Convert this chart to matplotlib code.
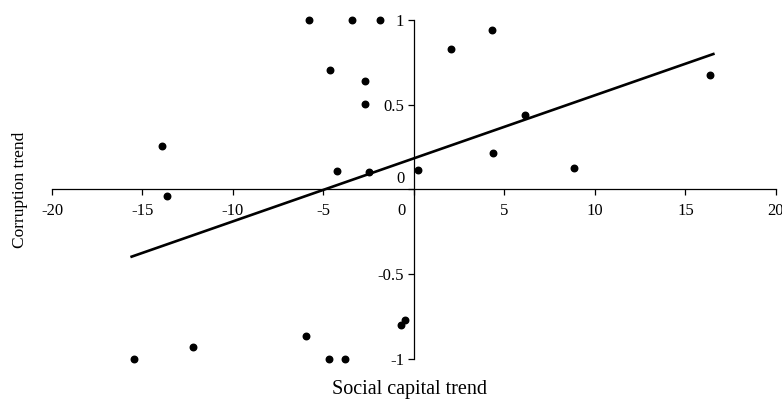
import matplotlib
matplotlib.use("Agg")
import matplotlib.pyplot as plt
import matplotlib.transforms as mtransforms
import numpy as np

# punkty
social_capital = [-5.8, -3.44, -1.88, -4.62, -2.72, -2.72, -13.9, -4.24, -2.5, -13.66,
                  4.31, 2.06, 16.35, 6.15, 4.35, 0.24, 8.82,
                  -15.47, -12.19, -5.97, -4.7, -3.81, -0.72, -0.5]
corruption = [1.0, 1.0, 1.0, 0.705, 0.64, 0.506, 0.257, 0.109, 0.103, -0.04,
              0.938, 0.83, 0.676, 0.439, 0.214, 0.117, 0.125,
              -1.0, -0.93, -0.865, -1.0, -1.0, -0.80, -0.77]

# linia trendu
trend_slope = 0.0372
trend_intercept = 0.184
trend_x = [-15.6, 16.54]

x_ticks = [-20, -15, -10, -5, 0, 5, 10, 15, 20]
x_labels = ["-20", "-15", "-10", "-5", "0", "5", "10", "15", "20"]
y_ticks = [-1, -0.5, 0, 0.5, 1]
y_labels = ["-1", "-0.5", "0", "0.5", "1"]

plt.rcParams['font.family'] = ['Liberation Serif', 'DejaVu Serif']

fig = plt.figure(figsize=(7.82, 3.99), dpi=100)
ax = fig.add_axes([0.0665, 0.1003, 0.9258, 0.8496])

ax.scatter(social_capital, corruption, s=22, color="black", zorder=3, clip_on=False)
tx = np.array(trend_x)
ax.plot(tx, trend_slope * tx + trend_intercept, color="black", lw=1.9)

ax.set_xlim(-20, 20)
ax.set_ylim(-1, 1)
ax.spines['left'].set_position(('data', 0))
ax.spines['bottom'].set_position(('data', 0))
ax.spines['top'].set_visible(False)
ax.spines['right'].set_visible(False)
for s in ['left', 'bottom']:
    ax.spines[s].set_linewidth(0.9)

ax.set_xticks(x_ticks)
ax.set_xticklabels(x_labels)
ax.set_yticks(y_ticks)
ax.set_yticklabels(y_labels)
ax.tick_params(axis='both', direction='out', length=4, width=0.9, labelsize=12, color="black")
ax.tick_params(axis='x', pad=6)
ax.tick_params(axis='y', pad=3)

# zera przesuniete jak w oryginale
for lab in ax.get_xticklabels():
    if lab.get_text() == "0":
        lab.set_transform(lab.get_transform() + mtransforms.ScaledTranslation(-0.12, 0, fig.dpi_scale_trans))
for lab in ax.get_yticklabels():
    if lab.get_text() == "0":
        lab.set_transform(lab.get_transform() + mtransforms.ScaledTranslation(0, 0.12, fig.dpi_scale_trans))

fig.text(0.524, 0.023, "Social capital trend", ha="center", va="center", fontsize=14.5)
fig.text(0.026, 0.524, "Corruption trend", ha="center", va="center", rotation=90, fontsize=12.5)

fig.savefig("out.png", dpi=100)
